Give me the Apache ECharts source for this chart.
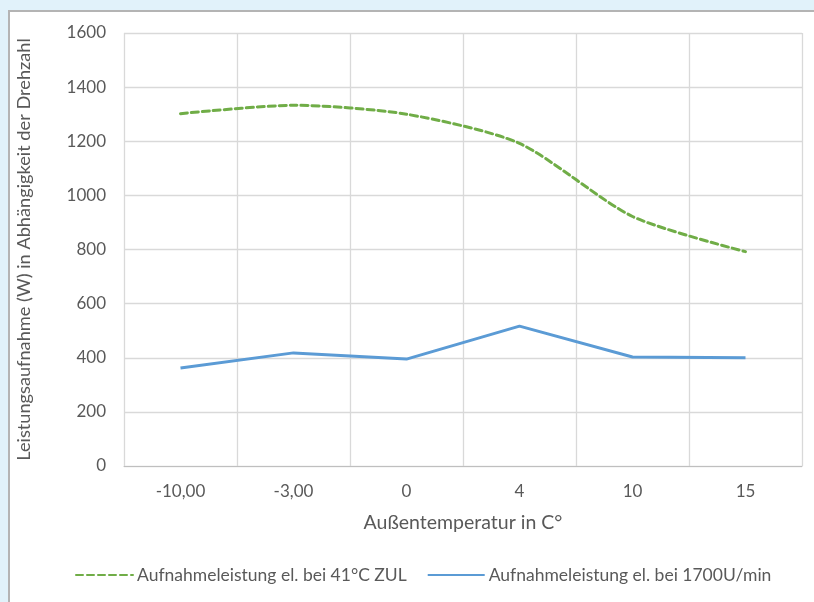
<!DOCTYPE html>
<html><head><meta charset="utf-8">
<script src="https://cdn.jsdelivr.net/npm/echarts@6/dist/echarts.min.js"></script>
<style>
html,body{margin:0;padding:0;background:#e1f2fa;overflow:hidden;}
#c{position:absolute;left:0;top:0;width:814px;height:602px;}
</style></head>
<body>
<div id="c"></div>
<script>
const categories = ['-10,00', '-3,00', '0', '4', '10', '15'];
const seriesZUL = [1302, 1333, 1300, 1192, 922, 792];
const series1700 = [362, 418, 395, 517, 403, 400];
const yTicks = [0, 200, 400, 600, 800, 1000, 1200, 1400, 1600];
const seriesNames = ['Aufnahmeleistung el. bei 41°C ZUL', 'Aufnahmeleistung el. bei 1700U/min'];

const font = 'Lato, "Open Sans", sans-serif';
const chart = echarts.init(document.getElementById('c'), null, {renderer: 'canvas'});
chart.setOption({
  backgroundColor: '#e1f2fa',
  animation: false,
  textStyle: {fontFamily: font, color: '#595959'},
  graphic: [{
    type: 'rect', z: -10, silent: true,
    shape: {x: 9, y: 11, width: 900, height: 700},
    style: {fill: '#ffffff', stroke: '#b4b4b4', lineWidth: 2}
  }],
  grid: {left: 124, top: 33, right: 12, bottom: 136},
  legend: {
    bottom: 13, left: 70, itemGap: 20, itemWidth: 57, itemHeight: 12,
    itemStyle: {opacity: 0},
    textStyle: {fontFamily: font, fontSize: 17.5, color: '#595959', padding: [0,0,0,-1]},
    data: seriesNames
  },
  xAxis: {
    type: 'category', data: categories, boundaryGap: true,
    name: 'Außentemperatur in C°', nameLocation: 'middle', nameGap: 47,
    nameTextStyle: {fontFamily: font, fontSize: 19.5, color: '#595959'},
    axisLine: {show: true, lineStyle: {color: '#bfbfbf', width: 1}},
    axisTick: {show: false},
    axisLabel: {fontFamily: font, fontSize: 17, color: '#595959', margin: 17},
    splitLine: {show: true, lineStyle: {color: '#d9d9d9', width: 1.3}}
  },
  yAxis: {
    type: 'value', min: 0, max: 1600, interval: 200,
    name: 'Leistungsaufnahme (W) in Abhängigkeit der Drehzahl', nameLocation: 'middle', nameGap: 91,
    nameTextStyle: {fontFamily: font, fontSize: 18.2, color: '#595959'},
    axisLine: {show: false}, axisTick: {show: false},
    axisLabel: {fontFamily: font, fontSize: 17, color: '#595959', margin: 18,
      formatter: v => yTicks.includes(v) ? String(v) : ''},
    splitLine: {show: true, lineStyle: {color: '#d9d9d9', width: 1.3}}
  },
  series: [
    {name: seriesNames[0], type: 'line', data: seriesZUL, smooth: 0.25, symbol: 'none',
     lineStyle: {color: '#70ad47', width: 3, type: [7, 4], cap: 'round'}, itemStyle: {color: '#70ad47'}},
    {name: seriesNames[1], type: 'line', data: series1700, smooth: false, symbol: 'none',
     lineStyle: {color: '#5b9bd5', width: 3}, itemStyle: {color: '#5b9bd5'}}
  ]
});
</script>
</body></html>
